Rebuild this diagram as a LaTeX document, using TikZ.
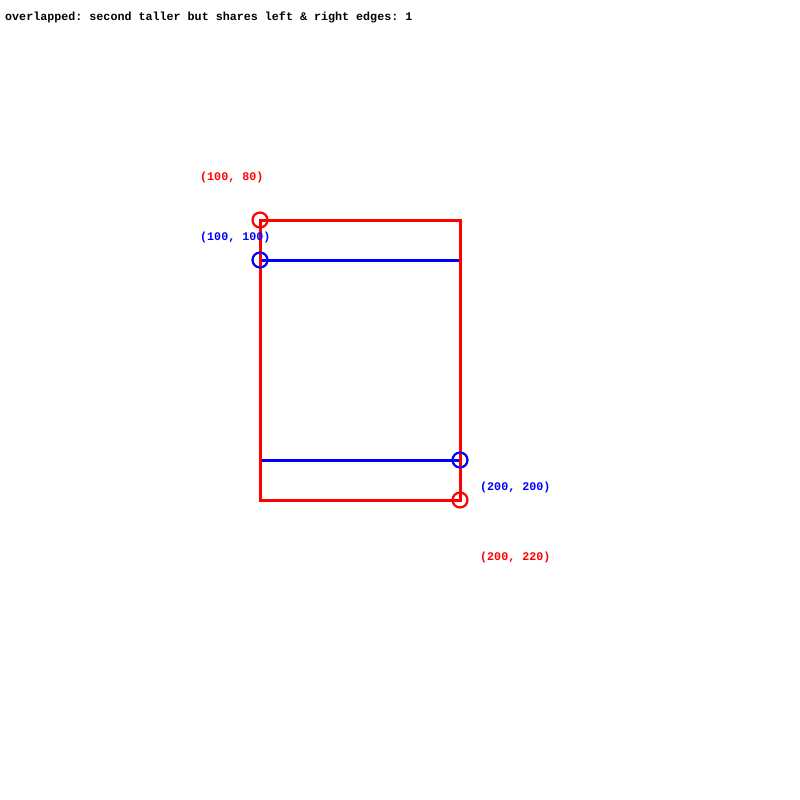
\documentclass[tikz,border=0pt]{standalone}
\usepackage{fontspec}
\setmonofont{Liberation Mono}
\begin{document}
\begin{tikzpicture}[x=1pt,y=-1pt,
  lbl/.style={font=\ttfamily\bfseries\fontsize{11.7}{12}\selectfont, anchor=west, inner sep=0pt},
  edge/.style={line width=3pt},
  mark circ/.style={line width=2.2pt, radius=7.5}]
\useasboundingbox[fill=white] (0,0) rectangle (800,800);
\coordinate (b1) at (260,260);
\coordinate (b2) at (460,460);
\coordinate (r1) at (260,220);
\coordinate (r2) at (460,500);
\node[lbl] (title) at (5,17) {overlapped: second taller but shares left \& right edges: 1};
\draw[edge, blue] (b1) rectangle (b2);
\draw[edge, red] (r1) rectangle (r2);
\draw[mark circ, red] (r1) circle;
\draw[mark circ, red] (r2) circle;
\draw[mark circ, blue] (b1) circle;
\draw[mark circ, blue] (b2) circle;
\node[lbl, red] (lr1) at (200,177) {(100, 80)};
\node[lbl, blue] (lb1) at (200,237) {(100, 100)};
\node[lbl, blue] (lb2) at (480,487) {(200, 200)};
\node[lbl, red] (lr2) at (480,557) {(200, 220)};
\end{tikzpicture}
\end{document}
